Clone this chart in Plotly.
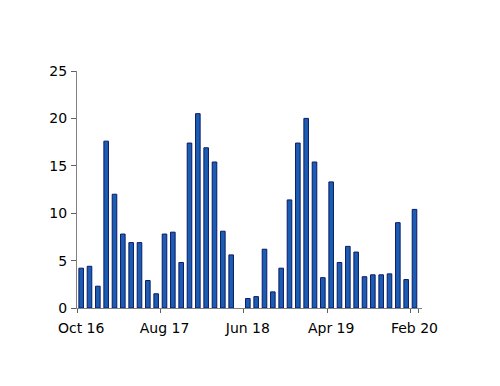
import plotly.graph_objects as go

months = ["Oct 16", "Nov 16", "Dec 16", "Jan 17", "Feb 17", "Mar 17", "Apr 17", "May 17",
          "Jun 17", "Jul 17", "Aug 17", "Sep 17", "Oct 17", "Nov 17", "Dec 17", "Jan 18",
          "Feb 18", "Mar 18", "Apr 18", "May 18", "Jun 18", "Jul 18", "Aug 18", "Sep 18",
          "Oct 18", "Nov 18", "Dec 18", "Jan 19", "Feb 19", "Mar 19", "Apr 19", "May 19",
          "Jun 19", "Jul 19", "Aug 19", "Sep 19", "Oct 19", "Nov 19", "Dec 19", "Jan 20",
          "Feb 20"]
values = [4.2, 4.4, 2.3, 17.6, 12.0, 7.8, 6.9, 6.9, 2.9, 1.5,
          7.8, 8.0, 4.8, 17.4, 20.5, 16.9, 15.4, 8.1, 5.6, None,
          1.0, 1.2, 6.2, 1.7, 4.2, 11.4, 17.4, 20.0, 15.4, 3.2,
          13.3, 4.8, 6.5, 5.9, 3.3, 3.5, 3.5, 3.6, 9.0, 3.0,
          10.4]
tick_labels = ["Oct 16", "Aug 17", "Jun 18", "Apr 19", "Feb 20"]
y_ticks = [0, 5, 10, 15, 20, 25]

fig = go.Figure(go.Bar(
    x=months, y=values,
    marker=dict(color="#1b5db2", line=dict(color="#0b1a66", width=1)),
))

# page body has an 8px margin, so the figure is 484x370 and offsets shift by 8
fig.update_layout(
    width=484, height=370,
    margin=dict(l=69, r=70, t=63, b=70, autoexpand=False),
    paper_bgcolor="white", plot_bgcolor="white",
    bargap=0.45,
    showlegend=False,
    font=dict(family="DejaVu Sans", size=14, color="black"),
)
fig.update_xaxes(
    type="category", categoryorder="array", categoryarray=months,
    tickmode="array", tickvals=tick_labels, ticktext=tick_labels,
    tickson="boundaries", ticks="outside", ticklen=4, tickcolor="#606060",
    tickangle=0, automargin=False, ticklabelstandoff=7,
    showline=True, linecolor="#808080", linewidth=1,
    showgrid=False, zeroline=False,
    range=[-0.5, 40.9],
)
fig.update_yaxes(
    range=[0, 25], tickvals=y_ticks,
    ticks="outside", ticklen=5, tickcolor="#606060", automargin=False,
    ticklabelstandoff=1,
    showline=True, linecolor="#808080", linewidth=1,
    showgrid=False, zeroline=False,
)

fig.write_html("out.html")
